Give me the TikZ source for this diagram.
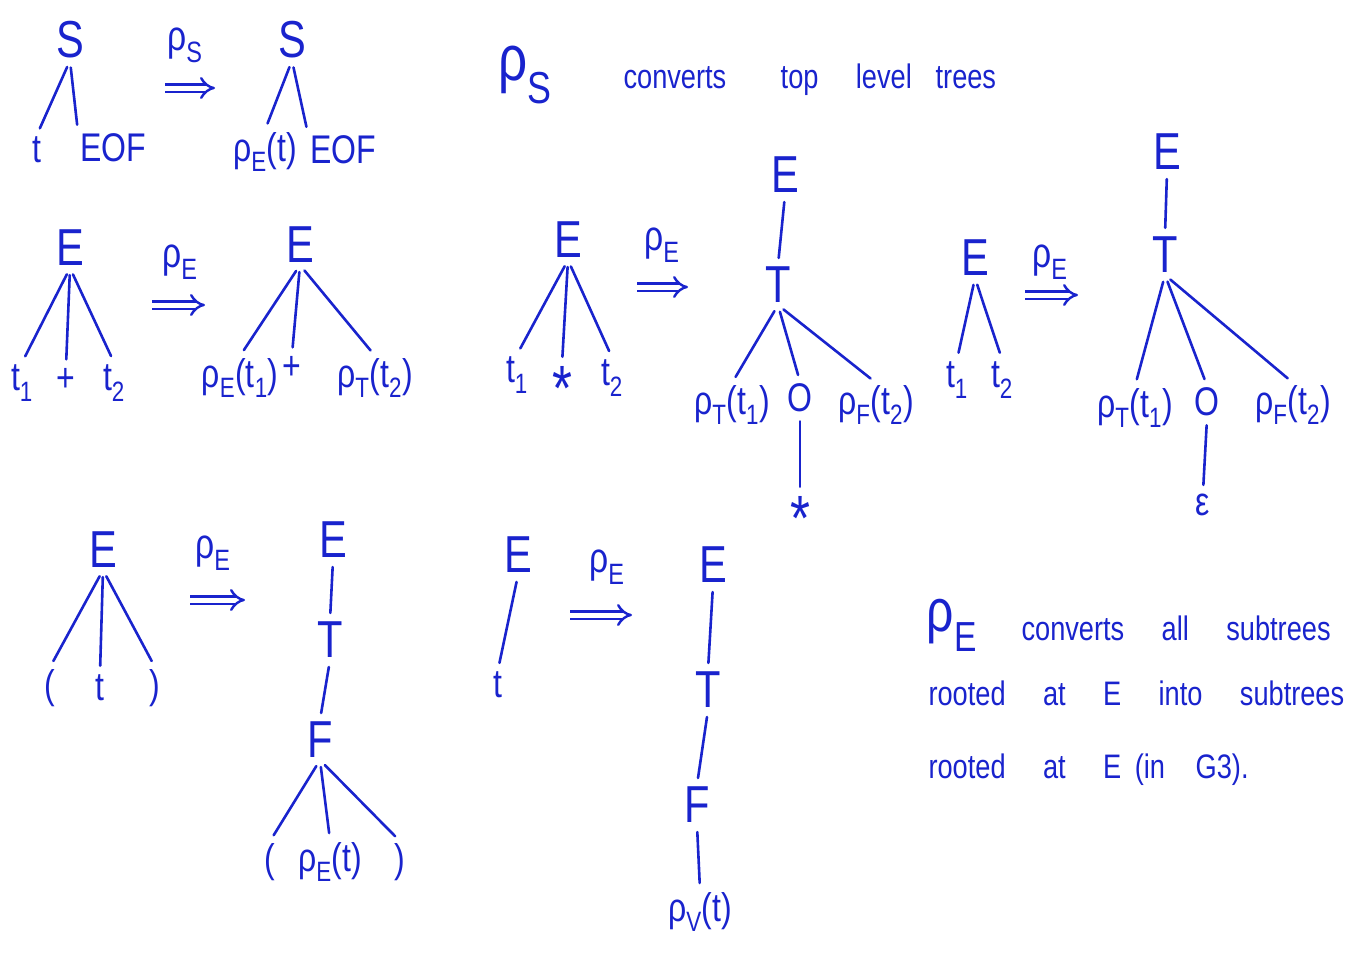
\documentclass[tikz,border=0pt]{standalone}
\usepackage{fontspec}
\setmainfont[FakeStretch=0.8]{Liberation Sans}
\usetikzlibrary{arrows.meta, positioning}
\definecolor{ink}{RGB}{25,35,205}
\newcommand{\rh}[1]{ρ\textsubscript{#1}}
\newcommand{\ts}[1]{t\textsubscript{#1}}
\newcommand{\gap}{\hspace{1.1em}}

\begin{document}
\begin{tikzpicture}[
    x=1pt, y=-1pt,
    sym/.style={text=ink, inner sep=2pt, font=\fontsize{52}{60}\selectfont},
    leaf/.style={text=ink, inner sep=2pt, font=\fontsize{40}{48}\selectfont},
    star/.style={text=ink, inner sep=2pt, font=\fontsize{64}{64}\selectfont},
    note/.style={text=ink, anchor=base west, font=\fontsize{34}{40}\selectfont},
    rlbl/.style={text=ink, font=\fontsize{42}{48}\selectfont},
    branch/.style={draw=ink, line width=2.6pt, line cap=round, shorten <=7pt, shorten >=7pt},
    imp/.style={draw=ink, line width=2.4pt, double=white, double distance=5pt, -{Implies[scale=1.3]}},
]
\useasboundingbox (0,0) rectangle (1365,956);

% --- top row: rho_S ---
\node[sym]  (s1)    at (70,40)   {S};
\node[leaf] (s1t)   at (37,150)  {t};
\node[leaf] (s1eof) at (113,148) {EOF};
\draw[branch] (s1.south) -- (s1t.north);
\draw[branch] (s1.south) -- (s1eof.north west);

\coordinate (a1s) at (165,88);
\coordinate (a1e) at (215,88);
\draw[imp] (a1s) -- (a1e);
\node[rlbl] (a1l) at (185,45) {\rh{S}};

\node[sym]  (s2)    at (292,40)  {S};
\node[leaf] (s2c1)  at (265,152) {\rh{E}(t)};
\node[leaf] (s2c2)  at (343,150) {EOF};
\draw[branch] (s2.south) -- (s2c1.north);
\draw[branch] (s2.south) -- (s2c2.north west);

\node[sym, font=\fontsize{64}{70}\selectfont] (rs) at (525,75) {\rh{S}};
\node[note] (rsnote) at (620,88)
      {converts\hspace{1.6em}top\hspace{1.1em}level\hspace{0.7em}trees};

% --- E -> E + T ---
\node[sym]  (e1)  at (70,248)  {E};
\node[leaf] (e1a) at (22,383)  {\ts{1}};
\node[leaf] (e1b) at (66,380)  {+};
\node[leaf] (e1c) at (114,383) {\ts{2}};
\draw[branch] (e1.south) -- (e1a.north);
\draw[branch] (e1.south) -- (e1b.north);
\draw[branch] (e1.south) -- (e1c.north);

\coordinate (a2s) at (152,305);
\coordinate (a2e) at (205,305);
\draw[imp] (a2s) -- (a2e);
\node[rlbl] (a2l) at (180,262) {\rh{E}};

\node[sym]  (e2)  at (300,245) {E};
\node[leaf] (e2a) at (240,378) {\rh{E}(\ts{1})};
\node[leaf] (e2b) at (292,368) {+};
\node[leaf] (e2c) at (375,378) {\rh{T}(\ts{2})};
\draw[branch] (e2.south) -- (e2a.north);
\draw[branch] (e2.south) -- (e2b.north);
\draw[branch] (e2.south) -- (e2c.north);

% --- E -> T with * ---
\node[sym]  (e3)  at (568,240) {E};
\node[leaf] (e3a) at (517,375) {\ts{1}};
\node[star] (e3b) at (562,388) {*};
\node[leaf] (e3c) at (612,378) {\ts{2}};
\draw[branch] (e3.south) -- (e3a.north);
\draw[branch] (e3.south) -- (e3b.north);
\draw[branch] (e3.south) -- (e3c.north);

\coordinate (a3s) at (637,287);
\coordinate (a3e) at (688,287);
\draw[imp] (a3s) -- (a3e);
\node[rlbl] (a3l) at (662,245) {\rh{E}};

\node[sym]  (e4)  at (785,175) {E};
\node[sym]  (t4)  at (778,285) {T};
\node[leaf] (t4a) at (732,405) {\rh{T}(\ts{1})};
\node[leaf] (t4b) at (800,398) {O};
\node[leaf] (t4c) at (876,405) {\rh{F}(\ts{2})};
\node[star] (t4d) at (800,518) {*};
\draw[branch] (e4.south) -- (t4.north);
\draw[branch] (t4.south) -- (t4a.north);
\draw[branch] (t4.south) -- (t4b.north);
\draw[branch] (t4.south) -- (t4c.north);
\draw[branch] (t4b.south) -- (t4d.north);

% --- E -> T with epsilon ---
\node[sym]  (e5)  at (975,258)  {E};
\node[leaf] (e5a) at (957,380)  {\ts{1}};
\node[leaf] (e5b) at (1002,380) {\ts{2}};
\draw[branch] (e5.south) -- (e5a.north);
\draw[branch] (e5.south) -- (e5b.north);

\coordinate (a4s) at (1025,295);
\coordinate (a4e) at (1078,295);
\draw[imp] (a4s) -- (a4e);
\node[rlbl] (a4l) at (1050,262) {\rh{E}};

\node[sym]  (e6)  at (1167,152) {E};
\node[sym]  (t6)  at (1165,255) {T};
\node[leaf] (t6a) at (1135,408) {\rh{T}(\ts{1})};
\node[leaf] (t6b) at (1207,402) {O};
\node[leaf] (t6c) at (1293,405) {\rh{F}(\ts{2})};
\node[leaf] (t6d) at (1203,505) {ε};
\draw[branch] (e6.south) -- (t6.north);
\draw[branch] (t6.south) -- (t6a.north);
\draw[branch] (t6.south) -- (t6b.north);
\draw[branch] (t6.south) -- (t6c.north);
\draw[branch] (t6b.south) -- (t6d.north);

% --- E -> ( t ) ---
\node[sym]  (e7)  at (103,550) {E};
\node[leaf] (e7a) at (50,688)  {(};
\node[leaf] (e7b) at (100,688) {t};
\node[leaf] (e7c) at (155,688) {)};
\draw[branch] (e7.south) -- (e7a.north);
\draw[branch] (e7.south) -- (e7b.north);
\draw[branch] (e7.south) -- (e7c.north);

\coordinate (a5s) at (190,600);
\coordinate (a5e) at (245,600);
\draw[imp] (a5s) -- (a5e);
\node[rlbl] (a5l) at (213,553) {\rh{E}};

\node[sym]  (e8)  at (333,540) {E};
\node[sym]  (t8)  at (330,640) {T};
\node[sym]  (f8)  at (320,740) {F};
\node[leaf] (f8a) at (270,862) {(};
\node[leaf] (f8b) at (330,862) {\rh{E}(t)};
\node[leaf] (f8c) at (400,862) {)};
\draw[branch] (e8.south) -- (t8.north);
\draw[branch] (t8.south) -- (f8.north);
\draw[branch] (f8.south) -- (f8a.north);
\draw[branch] (f8.south) -- (f8b.north);
\draw[branch] (f8.south) -- (f8c.north);

% --- E -> t ---
\node[sym]  (e9)  at (518,555) {E};
\node[leaf] (e9a) at (498,685) {t};
\draw[branch] (e9.south) -- (e9a.north);

\coordinate (a6s) at (570,615);
\coordinate (a6e) at (632,615);
\draw[imp] (a6s) -- (a6e);
\node[rlbl] (a6l) at (607,567) {\rh{E}};

\node[sym]  (e10) at (713,565) {E};
\node[sym]  (t10) at (708,690) {T};
\node[sym]  (f10) at (697,805) {F};
\node[leaf] (v10) at (700,912) {\rh{V}(t)};
\draw[branch] (e10.south) -- (t10.north);
\draw[branch] (t10.south) -- (f10.north);
\draw[branch] (f10.south) -- (v10.north);

% --- note on rho_E ---
\node[sym, font=\fontsize{60}{66}\selectfont] (re) at (952,625) {\rh{E}};
\node[note] (renote1) at (1018,640) {converts\gap all\gap subtrees};
\node[note] (renote2) at (925,705)  {rooted\gap at\gap E\gap into\gap subtrees};
\node[note] (renote3) at (925,778)  {rooted\gap at\gap E\hspace{0.4em}(in\hspace{0.9em}G3).};
\end{tikzpicture}
\end{document}
